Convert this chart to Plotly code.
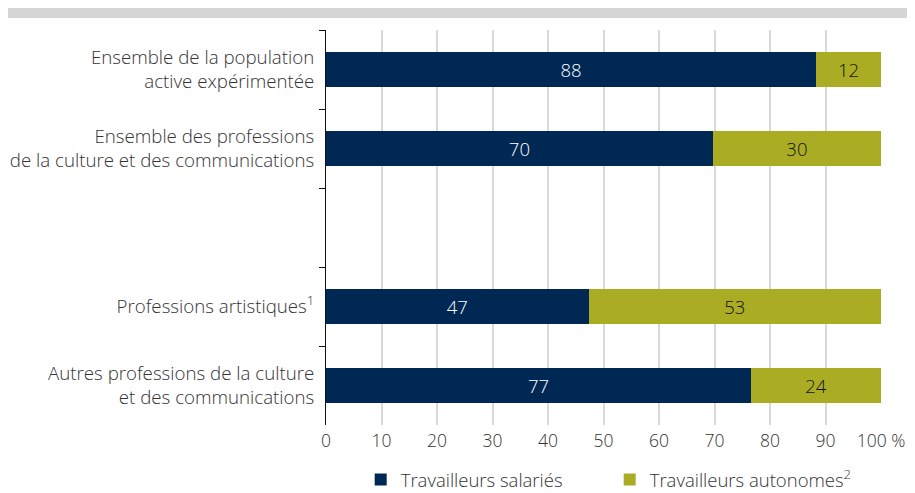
import plotly.graph_objects as go

categories = [
    "Ensemble de la population<br>active expérimentée",
    "Ensemble des professions<br>de la culture et des communications",
    " ",
    "Professions artistiques<sup>1</sup>",
    "Autres professions de la culture<br>et des communications",
]
salaries = [88.3, 69.7, None, 47.3, 76.6]
autonomes = [11.7, 30.3, None, 52.7, 23.4]
salaries_labels = ["88", "70", "", "47", "77"]
autonomes_labels = ["12", "30", "", "53", "24"]
x_ticks = [0, 10, 20, 30, 40, 50, 60, 70, 80, 90, 100]
x_ticktext = ["0", "10", "20", "30", "40", "50", "60", "70", "80", "90", "100 %"]

NAVY = "#002855"
OLIVE = "#aaad24"
FONT = "Open Sans"
TXT = "#333333"
WT = 300

fig = go.Figure()
fig.add_trace(go.Bar(
    y=categories, x=salaries, orientation="h", name="Travailleurs salariés",
    marker=dict(color=NAVY, line=dict(width=0)),
    text=salaries_labels, textposition="inside", insidetextanchor="middle",
    textfont=dict(color="white", size=18.5, family=FONT, weight=WT), width=0.44,
))
fig.add_trace(go.Bar(
    y=categories, x=autonomes, orientation="h", name="Travailleurs autonomes<sup>2</sup>",
    marker=dict(color=OLIVE, line=dict(width=0)),
    text=autonomes_labels, textposition="inside", insidetextanchor="middle",
    textfont=dict(color="#111111", size=18.5, family=FONT, weight=WT), width=0.44,
))

# page body has an 8px margin: figure coordinates = screen - 8
W, H = 907, 485
L, T = 318, 22
pw, ph = 555, 395
R = W - L - pw
B = H - T - ph

fig.update_layout(
    barmode="stack",
    width=W, height=H,
    margin=dict(l=L, r=R, t=T, b=B, pad=0, autoexpand=False),
    paper_bgcolor="white", plot_bgcolor="white",
    font=dict(family=FONT, size=18, color=TXT, weight=WT),
    xaxis=dict(
        range=[0, 100], tickvals=x_ticks, ticktext=x_ticktext,
        showgrid=True, gridcolor="#d9d9d9", gridwidth=1.5,
        zeroline=False, showline=False, ticks="",
        tickfont=dict(size=17.5, color=TXT, family=FONT, weight=WT),
        ticklabelstandoff=3,
        fixedrange=True,
    ),
    yaxis=dict(
        categoryorder="array", categoryarray=categories,
        autorange="reversed", type="category",
        showline=True, linecolor="#111111", linewidth=1,
        ticks="outside", tickson="boundaries", ticklen=6, tickcolor="#111111",
        tickfont=dict(size=18.7, color=TXT, family=FONT, weight=WT),
        ticklabelstandoff=7,
        showgrid=False, zeroline=False,
    ),
    legend=dict(
        orientation="h", x=34.7 / pw, xanchor="left",
        y=-(H - (T + ph) + 6) / ph, yanchor="bottom",
        font=dict(size=18.5, color=TXT, family=FONT, weight=WT),
        entrywidth=204, traceorder="normal",
    ),
    showlegend=True,
    shapes=[dict(
        type="rect", xref="paper", yref="paper",
        x0=-L / pw, x1=(W - L) / pw,
        y0=(T + ph - 10) / ph, y1=(T + ph) / ph,
        fillcolor="#d5d5d5", line=dict(width=0), layer="below",
    )],
)

fig.write_html("out.html")
